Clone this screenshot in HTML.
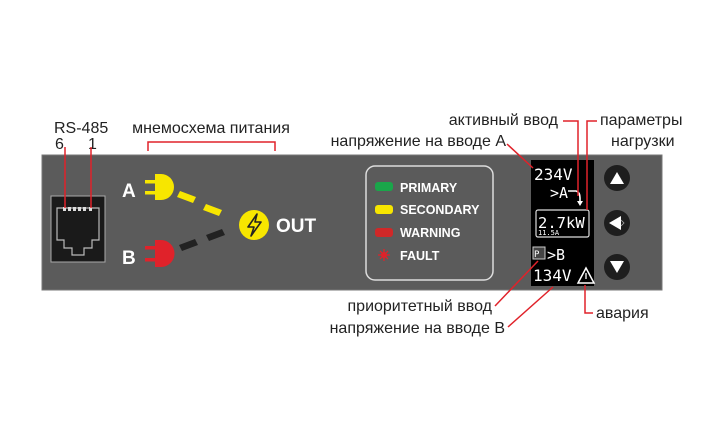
<!DOCTYPE html>
<html><head><meta charset="utf-8"><style>
html,body{margin:0;padding:0;background:#fff;width:705px;height:442px;overflow:hidden}
svg{display:block}
.l{font-family:"Liberation Sans",sans-serif;font-size:16px;fill:#222}
.b{font-family:"Liberation Sans",sans-serif;font-weight:bold;fill:#fff}
.m{font-family:"DejaVu Sans Mono","Liberation Mono",monospace;fill:#fff}
</style></head><body>
<svg width="705" height="442" viewBox="0 0 705 442">
<rect x="42" y="155" width="620" height="135" fill="#5b5b5b" stroke="#777" stroke-width="1"/>
<!-- RS-485 -->
<text class="l" x="54" y="133">RS-485</text>
<text class="l" x="55" y="149">6</text>
<text class="l" x="88" y="149">1</text>
<rect x="51" y="196" width="54" height="66" fill="#1a1a1a" stroke="#aaa" stroke-width="1"/>
<path d="M57 208 H99 V240 H92 V248 H84 V255 H72 V248 H64 V240 H57 Z" fill="none" stroke="#bbb" stroke-width="1.2"/>
<g fill="#ddd"><rect x="63" y="207" width="3" height="4"/><rect x="68" y="207" width="3" height="4"/><rect x="73" y="207" width="3" height="4"/><rect x="78" y="207" width="3" height="4"/><rect x="83" y="207" width="3" height="4"/><rect x="89" y="207" width="3" height="4"/></g>
<g stroke="#e0222a" stroke-width="1.5" fill="none">
<path d="M65 147 V208"/><path d="M91 147 V208"/>
<path d="M148 151 V142 H275 V151"/>
</g>
<text class="l" x="211" y="133" text-anchor="middle">мнемосхема питания</text>
<!-- plugs -->
<text class="b" x="122" y="197" font-size="19">A</text>
<text class="b" x="122" y="264" font-size="19">B</text>
<g fill="#f7e600">
<path d="M155 174 h6 a13 13 0 0 1 0 26 h-6 Z"/><rect x="145" y="180" width="11" height="3.5"/><rect x="145" y="191" width="11" height="3.5"/>
<path d="M180 191 l16 6 l-3 6 l-16 -6 Z"/><path d="M206 204 l16 6 l-3 6 l-16 -6 Z"/>
</g>
<g fill="#e0222a">
<path d="M155 240 h6 a13 13 0 0 1 0 27 h-6 Z"/><rect x="145" y="246" width="11" height="3.5"/><rect x="145" y="258" width="11" height="3.5"/>
</g>
<g fill="#222">
<path d="M179 245 l16 -6 l3 6 l-16 6 Z"/><path d="M206 235 l16 -6 l3 6 l-16 6 Z"/>
</g>
<circle cx="254" cy="225" r="15" fill="#f7e600"/>
<path d="M257 214 L248 227 H254 L251 236 L261 222 H255 Z" fill="none" stroke="#222" stroke-width="1.6" stroke-linejoin="round"/>
<text class="b" x="276" y="232" font-size="19">OUT</text>
<!-- legend -->
<rect x="366" y="166" width="127" height="114" rx="9" fill="none" stroke="#ddd" stroke-width="1.5"/>
<rect x="375" y="182" width="18" height="9" rx="3" fill="#1aa64a"/>
<rect x="375" y="205" width="18" height="9" rx="3" fill="#f7e600"/>
<rect x="375" y="228" width="18" height="9" rx="3" fill="#d02828"/>
<g stroke="#e0222a" stroke-width="1.3"><path d="M384 249 V261 M378 255 H390 M380 251 L388 259 M388 251 L380 259"/></g>
<circle cx="384" cy="255" r="3" fill="#e0222a"/>
<text class="b" x="400" y="192" font-size="12.5">PRIMARY</text>
<text class="b" x="400" y="214" font-size="12.5">SECONDARY</text>
<text class="b" x="400" y="237" font-size="12.5">WARNING</text>
<text class="b" x="400" y="260" font-size="12.5">FAULT</text>
<!-- screen -->
<rect x="531" y="160" width="63" height="126" fill="#000"/>
<text class="m" x="534" y="180" font-size="16">234V</text>
<text class="m" x="550" y="198" font-size="15">&gt;A</text>
<path d="M568 191 H576 Q580 192 580 198 V203" fill="none" stroke="#fff" stroke-width="1.6"/>
<path d="M577 201 L580 206 L583 201 Z" fill="#fff"/>
<rect x="536" y="210" width="53" height="27" rx="2" fill="none" stroke="#ddd" stroke-width="1.2"/>
<text class="m" x="538" y="228" font-size="15.5">2.7kW</text>
<text class="m" x="538" y="235" font-size="7">11.5A</text>
<rect x="533" y="247" width="12" height="12" fill="#444" stroke="#ccc" stroke-width="1"/>
<text class="m" x="534" y="257" font-size="9" fill="#fff">P</text>
<text class="m" x="547" y="260" font-size="15">&gt;B</text>
<text class="m" x="533" y="281" font-size="16">134V</text>
<path d="M586 268 L594 283 H578 Z" fill="none" stroke="#fff" stroke-width="1.5"/>
<path d="M586 273 V279" stroke="#fff" stroke-width="1.3"/>
<!-- buttons -->
<circle cx="617" cy="178" r="13" fill="#1e1e1e"/><path d="M610 184 H624 L617 172 Z" fill="#fff"/>
<circle cx="617" cy="223" r="13" fill="#1e1e1e"/><path d="M609 223 L621 216 V230 Z" fill="#fff"/><path d="M621 220 L624 223 L621 226" fill="none" stroke="#aaa" stroke-width="0.8"/>
<circle cx="617" cy="267" r="13" fill="#1e1e1e"/><path d="M610 261 H624 L617 273 Z" fill="#fff"/>
<!-- callouts -->
<text class="l" x="558" y="125" text-anchor="end">активный ввод</text>
<text class="l" x="600" y="125">параметры</text>
<text class="l" x="611" y="146">нагрузки</text>
<text class="l" x="506" y="146" text-anchor="end">напряжение на вводе А</text>
<text class="l" x="492" y="311" text-anchor="end">приоритетный ввод</text>
<text class="l" x="505" y="333" text-anchor="end">напряжение на вводе В</text>
<text class="l" x="596" y="318">авария</text>
<g stroke="#e0222a" stroke-width="1.5" fill="none">
<path d="M563 121 H578 V196"/>
<path d="M597 121 H587 V210"/>
<path d="M507 144 L533 168"/>
<path d="M495 306 L538 261"/>
<path d="M508 327 L553 287"/>
<path d="M585 285 V313 H593"/>
</g>
</svg>
</body></html>
